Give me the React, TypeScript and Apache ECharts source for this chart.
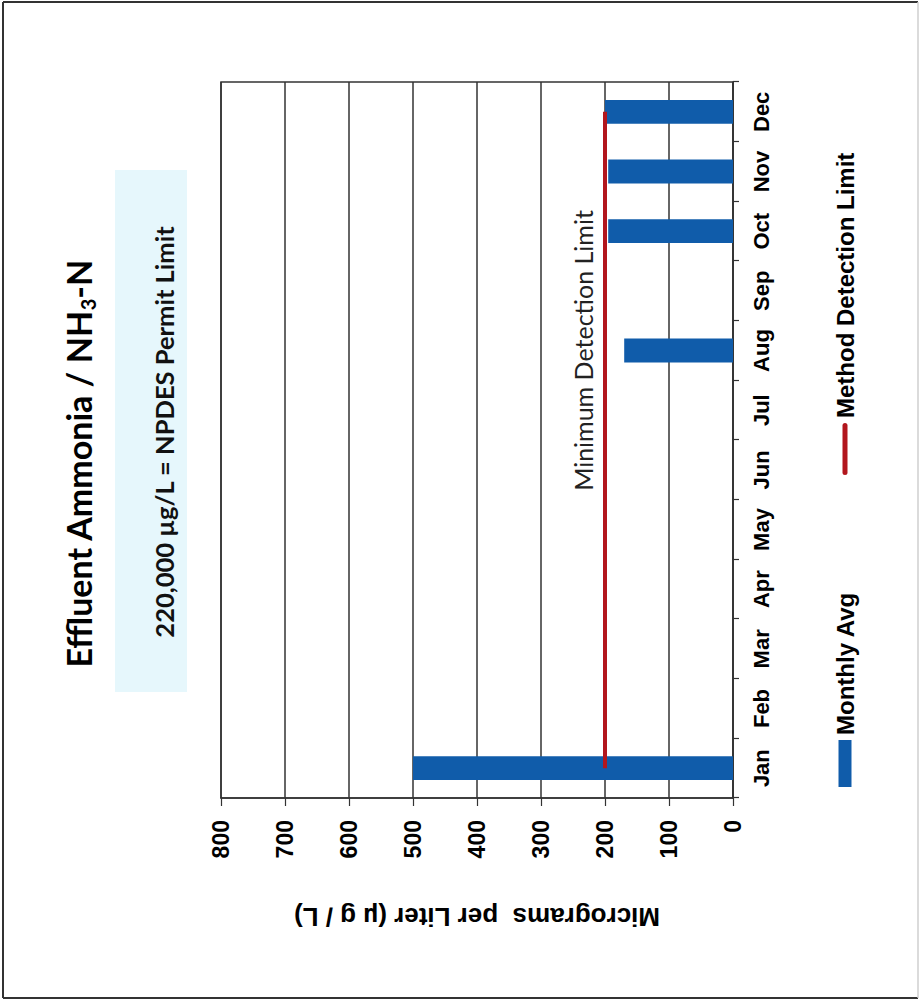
import React, { useEffect, useRef } from "react";
import * as echarts from "echarts";

// ---- data ----
const months = ["Jan", "Feb", "Mar", "Apr", "May", "Jun", "Jul", "Aug", "Sep", "Oct", "Nov", "Dec"];
const monthlyAvg: (number | null)[] = [500, null, null, null, null, null, null, 170, null, 195, 195, 200];
const methodDetectionLimit: number[] = [200, 200, 200, 200, 200, 200, 200, 200, 200, 200, 200, 200];
const mdlLabelMonth = "Aug";
const valueMin = 0;
const valueMax = 800;
const valueStep = 100;

const titleMain = "Effluent Ammonia / NH";
const titleSub = "3";
const titleEnd = "-N";
const permitText = "220,000 µg/L = NPDES Permit Limit";
const mdlText = "Minimum Detection Limit";
const yAxisName = "Micrograms  per Liter (µ g / L)";

// ---- style ----
const W = 1000; // chart drawn unrotated, then turned 90° counter-clockwise
const H = 921;
const ARIAL = "'Liberation Sans', Arial, sans-serif";
const CAL = "Lato, 'Open Sans', sans-serif";
const BLUE = "#105CAA";
const RED = "#B2161D";
const GRID = "#333";

export default function App() {
  const ref = useRef<HTMLDivElement>(null);

  useEffect(() => {
    if (!ref.current) return;
    const chart = echarts.init(ref.current, null, { renderer: "svg", width: W, height: H });

    const mdlData = methodDetectionLimit.map((v, i) =>
      months[i] === mdlLabelMonth
        ? {
            value: v,
            symbol: "circle",
            symbolSize: 1,
            label: {
              show: true,
              position: "top",
              distance: 9,
              formatter: mdlText,
              fontFamily: CAL,
              fontSize: 25,
              lineHeight: 26,
              color: "#222",
            },
          }
        : v
    );

    const legendText = { fontFamily: ARIAL, fontWeight: "bold", fontSize: 24, lineHeight: 24, color: "#000" };

    chart.setOption({
      animation: false,
      backgroundColor: "#fff",
      grid: {
        left: 202,
        right: 82,
        top: 221,
        bottom: 188,
        show: true,
        borderColor: GRID,
        borderWidth: 1.5,
        backgroundColor: "transparent",
      },
      xAxis: {
        type: "category",
        data: months,
        boundaryGap: true,
        axisLine: { show: true, lineStyle: { color: GRID, width: 1.5 } },
        axisTick: { show: true, length: 6, lineStyle: { color: GRID, width: 1.2 } },
        axisLabel: {
          interval: 0,
          margin: 17,
          fontFamily: ARIAL,
          fontWeight: "bold",
          fontSize: 22,
          lineHeight: 22,
          color: "#000",
        },
      },
      yAxis: {
        type: "value",
        min: valueMin,
        max: valueMax,
        interval: valueStep,
        name: yAxisName,
        nameLocation: "middle",
        nameRotate: 90,
        nameGap: 106,
        nameTextStyle: { fontFamily: ARIAL, fontWeight: "bold", fontSize: 26, color: "#000" },
        axisLine: { show: true, lineStyle: { color: GRID, width: 1.5 } },
        axisTick: { show: true, length: 8, lineStyle: { color: GRID, width: 1.2 } },
        splitLine: { show: true, lineStyle: { color: GRID, width: 1.5 } },
        axisLabel: {
          margin: 22,
          fontFamily: ARIAL,
          fontWeight: "bold",
          fontSize: 23,
          color: "#000",
        },
      },
      legend: [
        {
          data: [{ name: "Monthly Avg", icon: "rect" }],
          left: 213,
          top: 833,
          padding: 0,
          itemWidth: 47,
          itemHeight: 13,
          textStyle: legendText,
          selectedMode: false,
        },
        {
          data: [
            {
              name: "Method Detection Limit",
              icon: "path://M2.5,0H49.5A2.5,2.5,0,0,1,49.5,5H2.5A2.5,2.5,0,0,1,2.5,0Z",
            },
          ],
          left: 525,
          top: 833,
          padding: 0,
          itemWidth: 52,
          itemHeight: 5,
          textStyle: legendText,
          selectedMode: false,
        },
      ],
      series: [
        {
          name: "Monthly Avg",
          type: "bar",
          data: monthlyAvg,
          barWidth: "40%",
          itemStyle: { color: BLUE },
          z: 2,
        },
        {
          name: "Method Detection Limit",
          type: "line",
          data: mdlData,
          symbol: "none",
          lineStyle: { color: RED, width: 4 },
          itemStyle: { color: RED },
          z: 3,
        },
      ],
      graphic: [
        // outer frame
        { type: "line", shape: { x1: 2, y1: 3, x2: 998, y2: 3 }, style: { stroke: "#333", lineWidth: 2 } },
        { type: "line", shape: { x1: 998, y1: 3, x2: 998, y2: 918 }, style: { stroke: "#333", lineWidth: 2 } },
        { type: "line", shape: { x1: 2, y1: 3, x2: 2, y2: 918 }, style: { stroke: "#333", lineWidth: 2 } },
        { type: "line", shape: { x1: 2, y1: 918, x2: 998, y2: 918 }, style: { stroke: "#cfcfcf", lineWidth: 1.5 } },
        // permit box
        {
          type: "rect",
          shape: { x: 308, y: 115, width: 522, height: 72 },
          style: { fill: "#E6F7FC" },
          z: 0,
        },
        {
          type: "text",
          x: 568,
          y: 164,
          z: 10,
          style: {
            text: permitText,
            fontFamily: CAL,
            fontWeight: "bold",
            fontSize: 25.5,
            fill: "#111",
            align: "center",
            verticalAlign: "middle",
          },
        },
        {
          type: "text",
          x: 536,
          y: 78,
          z: 10,
          style: {
            text: "{t|" + titleMain + "}{s|" + titleSub + "}{t|" + titleEnd + "}",
            fill: "#000",
            align: "center",
            verticalAlign: "middle",
            rich: {
              t: { fontFamily: CAL, fontWeight: "bold", fontSize: 34, lineHeight: 40, fill: "#000" },
              s: {
                fontFamily: CAL,
                fontWeight: "bold",
                fontSize: 20,
                lineHeight: 22,
                verticalAlign: "bottom",
                fill: "#000",
              },
            },
          },
        },
      ],
    });

    return () => chart.dispose();
  }, []);

  return (
    <div
      style={{
        position: "absolute",
        left: 0,
        top: 0,
        width: 921,
        height: 1000,
        overflow: "hidden",
        background: "#fff",
      }}
    >
      <div
        ref={ref}
        style={{
          position: "absolute",
          left: 0,
          top: 0,
          width: W,
          height: H,
          transformOrigin: "0 0",
          transform: "translate(0px, 1000px) rotate(-90deg)",
        }}
      />
    </div>
  );
}
